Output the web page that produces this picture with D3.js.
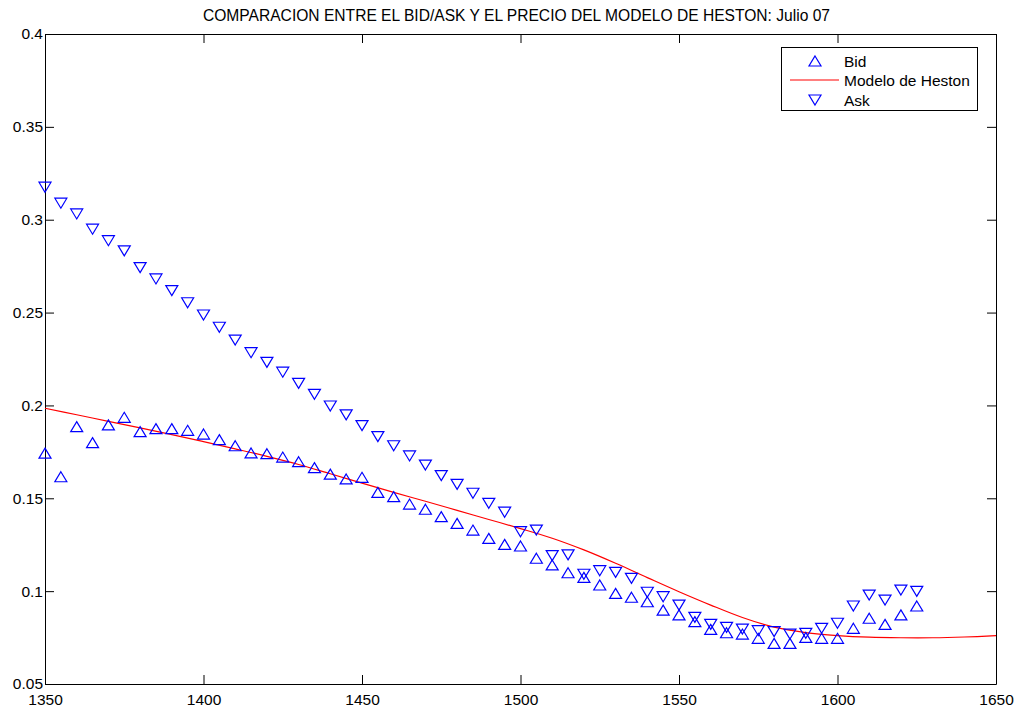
<!DOCTYPE html>
<html>
<head>
<meta charset="utf-8">
<script src="https://cdn.jsdelivr.net/npm/d3@7/dist/d3.min.js"></script>
<style>
  html, body { margin: 0; padding: 0; background: #fff; }
  svg { display: block; font-family: "Liberation Sans", Arial, Helvetica, sans-serif; }
</style>
</head>
<body>
<svg id="chart" width="1017" height="711"></svg>
<script>
// Strike prices of the quoted options
const strikes = [1350,1355,1360,1365,1370,1375,1380,1385,1390,1395,
                 1400,1405,1410,1415,1420,1425,1430,1435,1440,1445,
                 1450,1455,1460,1465,1470,1475,1480,1485,1490,1495,
                 1500,1505,1510,1515,1520,1525,1530,1535,1540,1545,
                 1550,1555,1560,1565,1570,1575,1580,1585,1590,1595,
                 1600,1605,1610,1615,1620,1625];

// Bid quotes
const bid = [0.1743,0.1616,0.1886,0.1800,0.1895,0.1936,0.1859,0.1875,0.1875,0.1866,
             0.1846,0.1816,0.1783,0.1744,0.1740,0.1722,0.1697,0.1665,0.1630,0.1604,
             0.1613,0.1532,0.1509,0.1469,0.1441,0.1401,0.1365,0.1329,0.1284,0.1252,
             0.1243,0.1177,0.1141,0.1099,0.1074,0.1033,0.0988,0.0967,0.0943,0.0898,
             0.0872,0.0836,0.0794,0.0776,0.0769,0.0746,0.0719,0.0719,0.0751,0.0746,
             0.0746,0.0800,0.0854,0.0821,0.0872,0.0920];

// Ask quotes
const ask = [0.3175,0.3089,0.3031,0.2949,0.2887,0.2832,0.2742,0.2681,0.2618,0.2553,
             0.2487,0.2421,0.2352,0.2284,0.2232,0.2179,0.2119,0.2060,0.1997,0.1949,
             0.1891,0.1832,0.1783,0.1728,0.1679,0.1622,0.1575,0.1527,0.1473,0.1425,
             0.1320,0.1329,0.1191,0.1195,0.1091,0.1110,0.1101,0.1069,0.0994,0.0970,
             0.0925,0.0859,0.0821,0.0805,0.0796,0.0787,0.0782,0.0769,0.0773,0.0800,
             0.0827,0.0920,0.0979,0.0952,0.1006,0.0999];

// Heston model price curve
const hestonStrikes = [1350,1360,1370,1380,1390,1400,1410,1420,1430,1440,
                       1450,1460,1470,1480,1490,1500,1510,1520,1530,1540,
                       1550,1560,1570,1580,1590,1600,1610,1620,1630,1640,1650];
const hestonPrice = [0.1985,0.1950,0.1914,0.1879,0.1843,0.1805,0.1766,0.1726,0.1682,0.1632,
                     0.1582,0.1532,0.1484,0.1435,0.1386,0.1337,0.1285,0.1222,0.1150,0.1073,
                     0.0997,0.0925,0.0858,0.0806,0.0777,0.0761,0.0752,0.0749,0.0749,0.0753,0.0760];

const xTicks = [1350,1400,1450,1500,1550,1600,1650];
const yTicks = [0.05,0.1,0.15,0.2,0.25,0.3,0.35,0.4];

const titleText = "COMPARACION ENTRE EL BID/ASK Y EL PRECIO DEL MODELO DE HESTON: Julio 07";
const legendLabels = ["Bid", "Modelo de Heston", "Ask"];

const svg = d3.select("#chart");
const plotLeft = 45, plotRight = 996, plotTop = 34, plotBottom = 684;

const x = d3.scaleLinear().domain([1350, 1650]).range([plotLeft, plotRight]);
const y = d3.scaleLinear().domain([0.05, 0.4]).range([plotBottom, plotTop]);

const fontSize = 15.5;
const blue = "#0000ff", red = "#ff0000";

// triangle marker paths, centred on their bounding box
const upTri = "M0,-5L6,5L-6,5Z";
const downTri = "M0,5L6,-5L-6,-5Z";

// Axes: ticks pointing inward on all four sides
function styleAxis(g) {
  g.selectAll("path.domain").attr("stroke", "#000").attr("stroke-width", 1);
  g.selectAll(".tick line").attr("stroke", "#000");
  g.selectAll(".tick text").attr("fill", "#000").style("font-size", fontSize + "px")
    .style("font-family", "'Liberation Sans', Arial, sans-serif");
}

svg.append("g").attr("transform", `translate(0,${plotBottom})`)
  .call(d3.axisBottom(x).tickValues(xTicks).tickFormat(d3.format("d"))
        .tickSizeInner(-9).tickSizeOuter(0).tickPadding(10))
  .call(styleAxis);

svg.append("g").attr("transform", `translate(0,${plotTop})`)
  .call(d3.axisTop(x).tickValues(xTicks).tickFormat("")
        .tickSizeInner(-9).tickSizeOuter(0))
  .call(styleAxis);

svg.append("g").attr("transform", `translate(${plotLeft},0)`)
  .call(d3.axisLeft(y).tickValues(yTicks).tickFormat(d => String(+d.toFixed(2)))
        .tickSizeInner(-9).tickSizeOuter(0).tickPadding(2))
  .call(styleAxis);

svg.append("g").attr("transform", `translate(${plotRight},0)`)
  .call(d3.axisRight(y).tickValues(yTicks).tickFormat("")
        .tickSizeInner(-9).tickSizeOuter(0))
  .call(styleAxis);

// Heston model curve
const line = d3.line()
  .x((d, i) => x(hestonStrikes[i]))
  .y(d => y(d))
  .curve(d3.curveCatmullRom);

svg.append("path")
  .datum(hestonPrice)
  .attr("d", line)
  .attr("fill", "none")
  .attr("stroke", red)
  .attr("stroke-width", 1.2);

// Bid markers
svg.append("g").selectAll("path")
  .data(bid)
  .join("path")
  .attr("d", upTri)
  .attr("transform", (d, i) => `translate(${x(strikes[i])},${y(d)})`)
  .attr("fill", "none")
  .attr("stroke", blue)
  .attr("stroke-width", 1.2);

// Ask markers
svg.append("g").selectAll("path")
  .data(ask)
  .join("path")
  .attr("d", downTri)
  .attr("transform", (d, i) => `translate(${x(strikes[i])},${y(d)})`)
  .attr("fill", "none")
  .attr("stroke", blue)
  .attr("stroke-width", 1.2);

// Title
svg.append("text")
  .attr("x", 516.5)
  .attr("y", 21)
  .attr("text-anchor", "middle")
  .attr("fill", "#000")
  .style("font-size", "15.6px")
  .text(titleText);

// Legend
const legend = svg.append("g");
legend.append("rect")
  .attr("x", 781.5).attr("y", 47.5)
  .attr("width", 196).attr("height", 63)
  .attr("fill", "#fff").attr("stroke", "#000").attr("stroke-width", 1);

const rowY = [61, 80, 100];
legend.append("path").attr("d", upTri)
  .attr("transform", `translate(815,${rowY[0]})`)
  .attr("fill", "none").attr("stroke", blue).attr("stroke-width", 1.2);
legend.append("line")
  .attr("x1", 790).attr("x2", 839).attr("y1", rowY[1]).attr("y2", rowY[1])
  .attr("stroke", red).attr("stroke-width", 1.2);
legend.append("path").attr("d", downTri)
  .attr("transform", `translate(815,${rowY[2]})`)
  .attr("fill", "none").attr("stroke", blue).attr("stroke-width", 1.2);

legend.selectAll("text.lbl")
  .data(legendLabels)
  .join("text")
  .attr("class", "lbl")
  .attr("x", 844)
  .attr("y", (d, i) => rowY[i])
  .attr("dy", "0.36em")
  .attr("fill", "#000")
  .style("font-size", fontSize + "px")
  .text(d => d);
</script>
</body>
</html>
